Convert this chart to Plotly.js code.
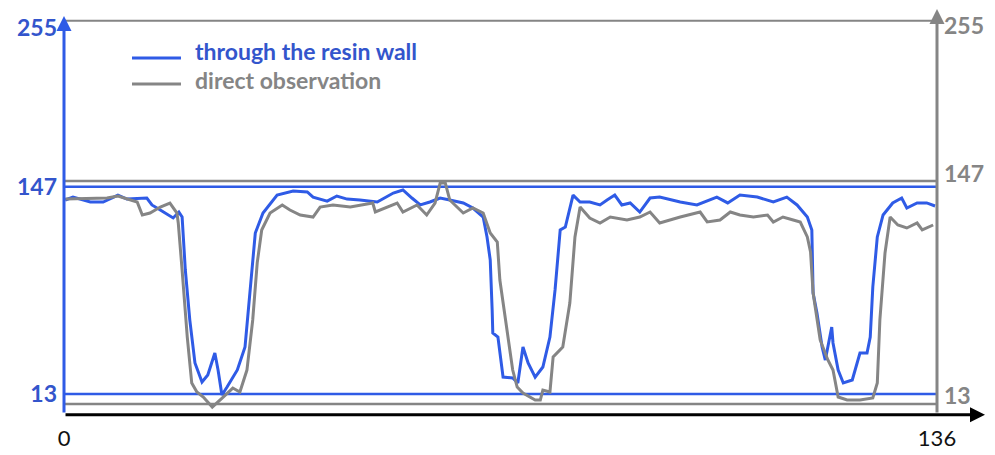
<!DOCTYPE html>
<html>
<head>
<meta charset="utf-8">
<script src="https://cdn.plot.ly/plotly-3.0.1.min.js"></script>
<style>html,body{margin:0;padding:0;background:#fff;}#chart{width:995px;height:455px;}</style>
</head>
<body>
<div id="chart"></div>
<script>
// ---- data ----
const seriesNames = ['through the resin wall', 'direct observation'];

const xBlue = [0.2,1.4,4.1,6.1,8.4,9.8,12.9,13.7,15.0,17.0,17.9,18.4,18.9,19.6,20.4,21.5,22.4,23.5,24.0,24.6,
  25.4,27.0,28.2,29.3,29.8,31.0,33.2,35.7,37.9,38.8,41.0,42.5,44.1,46.1,
  48.8,51.3,52.8,54.2,55.5,57.0,58.6,60.1,62.2,63.7,65.3,65.9,66.4,66.7,66.8,67.6,68.4,69.9,70.7,71.5,
  72.3,73.4,74.6,75.7,76.5,77.3,78.1,79.3,80.4,81.9,83.5,84.6,85.8,86.9,88.2,89.7,91.3,
  92.8,96.0,98.6,101.7,103.4,105.3,108.0,110.5,112.6,114.2,115.8,116.5,116.7,117.3,118.1,118.6,119.6,
  119.8,120.6,121.4,122.8,124.0,125.1,125.6,126.0,126.7,127.6,129.1,130.5,131.3,132.9,134.4,135.7];
const yBlue = [138.5,140.4,137.2,137.2,141.7,139.1,139.8,135.3,132.0,126.9,130.7,127.5,93.2,60.8,33.0,20.7,25.2,39.5,28.5,12.3,
  17.5,28.5,43.4,93.2,117.1,130.1,141.7,144.3,143.7,140.4,137.8,141.1,139.1,138.5,
  137.2,143.0,145.0,139.8,135.3,137.2,139.8,138.5,136.6,133.3,127.5,114.6,99.7,67.3,52.4,49.8,23.9,23.3,20.1,43.4,
  33.0,23.9,30.4,49.8,80.3,119.1,121.0,141.7,137.2,137.2,135.3,138.5,141.7,135.3,136.6,130.7,139.8,
  140.4,137.2,135.3,140.4,136.6,141.7,140.4,137.2,140.4,135.3,127.5,119.1,78.3,65.4,43.4,34.9,56.3,
  46.0,28.5,20.1,22.0,39.5,39.5,49.8,82.2,114.6,128.8,136.6,139.8,133.3,136.6,136.6,134.6];

const xGray = [0.2,5.6,6.7,8.4,11.4,12.2,13.4,15.0,16.5,17.6,17.8,18.4,19.2,19.9,20.7,21.7,23.1,24.8,26.3,27.4,
  28.5,29.4,30.1,30.8,32.1,34.0,35.2,36.8,38.8,39.9,41.9,44.6,46.1,
  48.1,48.5,51.9,52.8,55.0,56.5,57.8,58.6,59.4,60.1,62.2,63.7,65.3,66.4,67.5,67.9,69.0,69.9,70.6,71.5,
  73.4,74.2,74.6,75.7,76.2,77.7,78.8,79.6,80.4,81.9,83.5,85.1,87.7,89.7,91.3,
  92.8,96.0,99.1,100.2,102.2,103.8,105.3,107.4,109.6,110.5,112.0,113.6,114.7,115.8,116.3,116.7,117.8,
  119.0,119.8,120.6,122.0,124.0,126.0,126.7,127.1,127.9,128.7,129.9,131.3,132.9,133.7,135.4];
const yGray = [136.2,136.8,136.8,138.0,134.4,126.6,127.8,131.4,133.8,127.8,121.8,93.5,53.3,25.6,20.2,17.2,11.2,17.2,22.6,20.2,
  33.4,63.5,97.8,117.6,127.8,132.6,129.6,126.6,125.4,131.4,132.6,131.4,132.6,
  133.8,128.4,133.8,128.4,132.6,126.6,133.8,145.8,145.8,135.6,127.8,130.8,127.8,115.8,110.4,87.5,57.5,33.4,23.2,19.6,
  15.4,15.4,21.4,20.2,41.3,47.3,73.7,113.4,131.4,124.8,121.8,125.4,123.6,125.4,128.4,
  121.8,125.4,128.4,122.4,123.6,128.4,126.6,125.4,126.6,122.4,125.4,123.6,122.4,113.4,104.4,79.7,51.5,
  39.5,33.4,17.2,15.4,15.4,16.6,25.6,63.5,103.8,125.4,120.6,118.8,121.8,117.6,120.6];

const refLevels = [13, 147];
const yTickLabels = ['13', '147', '255'];
const xTickVals = [0, 136];
const xTickLabels = ['0', '136'];

// ---- styling / layout ----
const BLUE = '#2f5be6';
const BLUE_TXT = '#3355cc';
const GRAY = '#858585';
const FONT = 'Lato, "Open Sans", sans-serif';

const leftTickPos = [13, 147, 250];
const rightTickPos = [18, 151, 240];

const traces = [
  {x: xGray, y: yGray, yaxis: 'y2', mode: 'lines', name: seriesNames[1],
   line: {color: GRAY, width: 3}, showlegend: false, hoverinfo: 'skip'},
  {x: xBlue, y: yBlue, yaxis: 'y', mode: 'lines', name: seriesNames[0],
   line: {color: BLUE, width: 3}, showlegend: false, hoverinfo: 'skip'}
];

const shapes = [];
refLevels.forEach(v => {
  shapes.push({type: 'line', xref: 'paper', x0: 0, x1: 1, yref: 'y2', y0: v, y1: v,
               line: {color: GRAY, width: 2.5}, layer: 'below'});
  shapes.push({type: 'line', xref: 'paper', x0: 0, x1: 1, yref: 'y', y0: v, y1: v,
               line: {color: BLUE, width: 2.5}, layer: 'below'});
});
// top frame line
shapes.push({type: 'line', xref: 'paper', x0: 0, x1: 1, yref: 'paper', y0: 0.998, y1: 0.998,
             line: {color: GRAY, width: 2}});
// legend samples
shapes.push({type: 'line', xref: 'paper', x0: 0.0779, x1: 0.1340, yref: 'paper', y0: 0.9036, y1: 0.9036,
             line: {color: BLUE, width: 3}});
shapes.push({type: 'line', xref: 'paper', x0: 0.0779, x1: 0.1340, yref: 'paper', y0: 0.8376, y1: 0.8376,
             line: {color: GRAY, width: 3}});

const annotations = [
  // left (blue) axis with arrow
  {xref: 'paper', yref: 'paper', x: 0, y: 1.0102, ax: 0, ay: 398, axref: 'pixel', ayref: 'pixel',
   text: '', showarrow: true, arrowhead: 2, arrowsize: 1, arrowwidth: 3, arrowcolor: BLUE, standoff: 0},
  // right (gray) axis with arrow
  {xref: 'paper', yref: 'paper', x: 1, y: 1.0279, ax: 0, ay: 405, axref: 'pixel', ayref: 'pixel',
   text: '', showarrow: true, arrowhead: 2, arrowsize: 1, arrowwidth: 3, arrowcolor: GRAY, standoff: 0},
  // x axis with arrow
  {xref: 'paper', yref: 'paper', x: 1.055, y: -0.002, ax: -921, ay: 0, axref: 'pixel', ayref: 'pixel',
   text: '', showarrow: true, arrowhead: 2, arrowsize: 1, arrowwidth: 3, arrowcolor: '#000', standoff: 0},
  // legend texts
  {xref: 'paper', yref: 'paper', x: 0.1478, y: 0.9213, xanchor: 'left', yanchor: 'middle', showarrow: false,
   text: '<b>' + seriesNames[0] + '</b>', font: {family: FONT, size: 23, color: BLUE_TXT}},
  {xref: 'paper', yref: 'paper', x: 0.1478, y: 0.8477, xanchor: 'left', yanchor: 'middle', showarrow: false,
   text: '<b>' + seriesNames[1] + '</b>', font: {family: FONT, size: 23, color: GRAY}}
];

const layout = {
  width: 995, height: 455,
  margin: {l: 64, r: 58, t: 20, b: 41},
  paper_bgcolor: '#fff', plot_bgcolor: '#fff',
  showlegend: false,
  font: {family: FONT},
  xaxis: {range: [0, 136], showgrid: false, zeroline: false, showline: false, ticks: '',
          tickvals: xTickVals, ticktext: xTickLabels, ticklabelstandoff: 9,
          tickfont: {family: FONT, size: 22, color: '#111'}},
  yaxis: {range: [0, 255], showgrid: false, zeroline: false, showline: false, ticks: '',
          tickvals: leftTickPos, ticktext: yTickLabels, ticklabelstandoff: 6,
          tickfont: {family: FONT, size: 23, color: BLUE_TXT, weight: 'bold'}},
  yaxis2: {range: [7, 243.8], overlaying: 'y', side: 'right', anchor: 'x',
           showgrid: false, zeroline: false, showline: false, ticks: '',
           tickvals: rightTickPos, ticktext: yTickLabels, ticklabelstandoff: 6,
           tickfont: {family: FONT, size: 23, color: GRAY, weight: 'bold'}},
  shapes: shapes,
  annotations: annotations
};

Plotly.newPlot('chart', traces, layout, {displayModeBar: false, staticPlot: true});
</script>
</body>
</html>
